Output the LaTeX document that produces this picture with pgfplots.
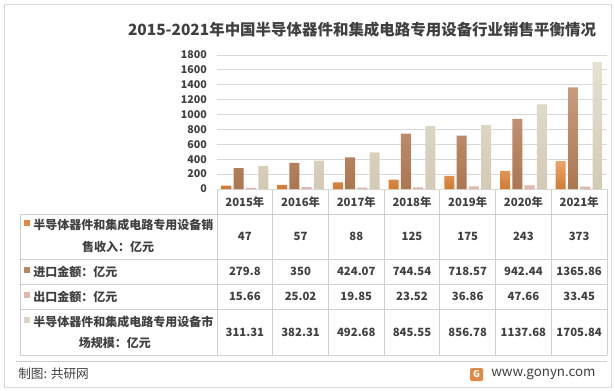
\documentclass[border=0pt]{standalone}
\usepackage{fontspec}
\setmainfont{Noto Sans CJK SC}
\usepackage{pgfplots}
\pgfplotsset{compat=1.18}
\definecolor{txt}{HTML}{404040}
\definecolor{gridc}{HTML}{D9D9D9}
\definecolor{tblc}{HTML}{D0D0D0}
\definecolor{framec}{HTML}{D9D9D9}
\definecolor{corange}{HTML}{E08A45}
\definecolor{corangeT}{HTML}{EBA46C}
\definecolor{corangeB}{HTML}{D27A32}
\definecolor{cbrown}{HTML}{B98562}
\definecolor{cbrownT}{HTML}{C99C7E}
\definecolor{cbrownB}{HTML}{AC7651}
\definecolor{cpink}{HTML}{DDB8AB}
\definecolor{cbeige}{HTML}{DDD6C3}
\definecolor{cbeigeT}{HTML}{E6E1D3}
\definecolor{cbeigeB}{HTML}{D2CAB4}
\begin{document}
\begin{tikzpicture}
\begin{scope}[x=0.75pt,y=-0.75pt]
\useasboundingbox (0,0) rectangle (615,390);
\draw[framec, line width=0.75pt] (4,4) rectangle (611,387);
\node[font=\bfseries\fontsize{11.6}{14}\selectfont, text=txt] at (362,30) {2015-2021年中国半导体器件和集成电路专用设备行业销售平衡情况};
% table grid
\foreach \y in {214,259,284,309,355} \draw[tblc, line width=0.6pt] (20,\y) -- (607,\y);
\draw[tblc, line width=0.6pt] (20,214) -- (20,355);
\foreach \k in {0,...,7} \draw[tblc, line width=0.6pt] ({217+\k*55.714},189) -- ({217+\k*55.714},355);
\draw[tblc, line width=0.6pt] (16,361) -- (607,361);
% header years
\foreach \yr [count=\i from 0] in {2015,2016,2017,2018,2019,2020,2021}
  \node[font=\bfseries\fontsize{8.5}{10}\selectfont, text=txt] at ({244.86+\i*55.714},202) {\yr 年};
% row labels
\tikzset{lab/.style={font=\bfseries\fontsize{9}{10}\selectfont, text=txt, inner sep=0pt}}
\fill[corange] (24,220) rectangle (30,226);
\node[lab, anchor=west] at (33,225) {半导体器件和集成电路专用设备销};
\node[lab] at (118,247) {售收入：亿元};
\fill[cbrown] (24,267) rectangle (30,273);
\node[lab, anchor=west] at (33,272) {进口金额：亿元};
\fill[cpink] (24,292) rectangle (30,298);
\node[lab, anchor=west] at (33,297) {出口金额：亿元};
\fill[cbeige] (24,317) rectangle (30,323);
\node[lab, anchor=west] at (33,322) {半导体器件和集成电路专用设备市};
\node[lab] at (115,343) {场规模：亿元};
% values
\tikzset{val/.style={font=\bfseries\fontsize{8.5}{10}\selectfont, text=txt}}
\foreach \v [count=\i from 0] in {47,57,88,125,175,243,373}
  \node[val] at ({244.86+\i*55.714},236.5) {\v};
\foreach \v [count=\i from 0] in {279.8,350,424.07,744.54,718.57,942.44,1365.86}
  \node[val] at ({244.86+\i*55.714},271.5) {\v};
\foreach \v [count=\i from 0] in {15.66,25.02,19.85,23.52,36.86,47.66,33.45}
  \node[val] at ({244.86+\i*55.714},296.5) {\v};
\foreach \v [count=\i from 0] in {311.31,382.31,492.68,845.55,856.78,1137.68,1705.84}
  \node[val] at ({244.86+\i*55.714},332) {\v};
% footer
\node[font=\fontsize{9.5}{11}\selectfont, text=txt, anchor=west, inner sep=0pt] at (18,374) {制图: 共研网};
\fill[corange, rounded corners=1pt] (470,368) rectangle (483,381);
\node[font=\bfseries\fontsize{7}{8}\selectfont, text=white] at (476.5,374.5) {G};
\node[font=\fontsize{10}{12}\selectfont, text=txt, anchor=west, inner sep=0pt] at (491,374) {www.gonyn.com};
\end{scope}
\begin{axis}[
  at={(162.75pt,-141.75pt)}, anchor=south west,
  scale only axis, width=292.5pt, height=100.5pt,
  xmin=-0.5, xmax=6.5, ymin=0, ymax=1800,
  ytick={0,200,...,1800}, xtick=\empty,
  ymajorgrids, grid style={draw=gridc, line width=0.6pt},
  axis line style={draw=none}, major tick style={draw=none},
  yticklabel style={font=\bfseries\fontsize{8}{9}\selectfont, text=txt, xshift=-4pt},
  /pgf/number format/assume math mode=true,
  /pgf/number format/1000 sep={},
  ybar=1.7pt, bar width=7.5pt, clip=false,
]
\addplot[draw=none, top color=corangeT, bottom color=corangeB] coordinates {(0,47) (1,57) (2,88) (3,125) (4,175) (5,243) (6,373)};
\addplot[draw=none, top color=cbrownT, bottom color=cbrownB] coordinates {(0,279.8) (1,350) (2,424.07) (3,744.54) (4,718.57) (5,942.44) (6,1365.86)};
\addplot[draw=none, fill=cpink] coordinates {(0,15.66) (1,25.02) (2,19.85) (3,23.52) (4,36.86) (5,47.66) (6,33.45)};
\addplot[draw=none, top color=cbeigeT, bottom color=cbeigeB] coordinates {(0,311.31) (1,382.31) (2,492.68) (3,845.55) (4,856.78) (5,1137.68) (6,1705.84)};
\end{axis}
\end{tikzpicture}
\end{document}
